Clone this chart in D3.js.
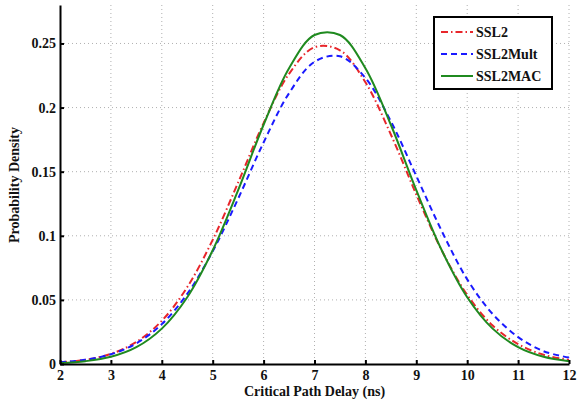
<!DOCTYPE html>
<html>
<head>
<meta charset="UTF-8">
<title>Critical Path Delay PDF</title>
<style>
  body { margin: 0; background: #fff; }
  text { font-family: "Liberation Serif", "Times New Roman", serif; font-weight: bold; }
</style>
<script src="https://d3js.org/d3.v7.min.js"></script>
</head>
<body>
<div id="chart"></div>
<script>
// delay in ns
const delays = [2, 2.5, 3, 3.5, 4, 4.5, 5, 5.5, 6, 6.5, 7, 7.5, 8, 8.5, 9, 9.5, 10, 10.5, 11, 11.5, 12];
const ssl2 = [0.0013, 0.0033, 0.0079, 0.0172, 0.0337, 0.0600, 0.0968, 0.1416, 0.1879, 0.2263, 0.2471, 0.2447, 0.2197, 0.1790, 0.1322, 0.0886, 0.0539, 0.0300, 0.0155, 0.0072, 0.0032];
const ssl2Mult = [0.0013, 0.0033, 0.0076, 0.0161, 0.0311, 0.0547, 0.0879, 0.1290, 0.1728, 0.2112, 0.2357, 0.2400, 0.2231, 0.1893, 0.1466, 0.1037, 0.0660, 0.0390, 0.0210, 0.0100, 0.0050];
const ssl2Mac = [0.0007, 0.0022, 0.0056, 0.0131, 0.0276, 0.0521, 0.0887, 0.1356, 0.1866, 0.2307, 0.2566, 0.2566, 0.2307, 0.1866, 0.1356, 0.0887, 0.0521, 0.0276, 0.0131, 0.0056, 0.0022];
const seriesNames = ["SSL2", "SSL2Mult", "SSL2MAC"];
const xTicks = [2, 3, 4, 5, 6, 7, 8, 9, 10, 11, 12];
const yTicks = [0, 0.05, 0.1, 0.15, 0.2, 0.25];

const W = 582, H = 403;
const margin = {top: 5, right: 13, bottom: 39, left: 60};
const width = W - margin.left - margin.right;
const height = H - margin.top - margin.bottom;

const svgRoot = d3.select("#chart").append("svg")
  .attr("width", W).attr("height", H);
const svg = svgRoot.append("g")
  .attr("transform", `translate(${margin.left},${margin.top})`);

const x = d3.scaleLinear().domain([2, 12]).range([0, width]);
const y = d3.scaleLinear().domain([0, 0.28]).range([height, 0]);

// dotted grid
svg.append("g").selectAll("line").data(xTicks.slice(1)).enter().append("line")
  .attr("x1", d => x(d)).attr("x2", d => x(d))
  .attr("y1", 0).attr("y2", height)
  .attr("stroke", "#b0b0b0").attr("stroke-width", 1).attr("stroke-dasharray", "1,3");
svg.append("g").selectAll("line").data(yTicks.slice(1)).enter().append("line")
  .attr("x1", 0).attr("x2", width)
  .attr("y1", d => y(d)).attr("y2", d => y(d))
  .attr("stroke", "#b0b0b0").attr("stroke-width", 1).attr("stroke-dasharray", "1,3");

// curves
const series = [
  {name: seriesNames[0], values: ssl2, color: "#e8262b", dash: "7,3,1.5,3"},
  {name: seriesNames[1], values: ssl2Mult, color: "#1a1aff", dash: "6,4"},
  {name: seriesNames[2], values: ssl2Mac, color: "#1f8a1f", dash: null}
];
const line = d3.line()
  .x((d, i) => x(delays[i]))
  .y(d => y(d))
  .curve(d3.curveCatmullRom);

series.forEach(s => {
  svg.append("path")
    .datum(s.values)
    .attr("fill", "none")
    .attr("stroke", s.color)
    .attr("stroke-width", 2)
    .attr("stroke-dasharray", s.dash)
    .attr("d", line);
});

// axes, ticks inward like matlab
const xAxis = svg.append("g")
  .attr("transform", `translate(0,${height})`)
  .call(d3.axisBottom(x).tickValues(xTicks).tickSizeInner(-4).tickSizeOuter(0).tickPadding(6));
const yAxis = svg.append("g")
  .call(d3.axisLeft(y).tickValues(yTicks).tickFormat(d3.format("")).tickSizeInner(-4).tickSizeOuter(0).tickPadding(4));

[xAxis, yAxis].forEach(a => {
  a.select(".domain").attr("stroke", "#000").attr("stroke-width", 2);
  a.selectAll(".tick line").attr("stroke", "#000").attr("stroke-width", 2);
  a.selectAll(".tick text")
    .attr("fill", "#111")
    .style("font-size", "14px")
    .style("font-family", "'Liberation Serif', serif")
    .style("font-weight", "bold");
});

svg.append("text")
  .attr("x", width / 2).attr("y", height + 32)
  .attr("text-anchor", "middle")
  .style("font-size", "14px")
  .attr("fill", "#111")
  .text("Critical Path Delay (ns)");

svg.append("text")
  .attr("transform", "rotate(-90)")
  .attr("x", -180).attr("y", -41)
  .attr("text-anchor", "middle")
  .style("font-size", "14px")
  .attr("fill", "#111")
  .text("Probability Density");

// legend
const legend = svgRoot.append("g").attr("transform", "translate(434,17)");
legend.append("rect")
  .attr("width", 118).attr("height", 72)
  .attr("fill", "#fff").attr("stroke", "#000").attr("stroke-width", 2);
series.forEach((s, i) => {
  const ly = 15 + i * 22;
  legend.append("line")
    .attr("x1", 7).attr("x2", 39).attr("y1", ly).attr("y2", ly)
    .attr("stroke", s.color).attr("stroke-width", 2)
    .attr("stroke-dasharray", s.dash);
  legend.append("text")
    .attr("x", 42).attr("y", ly + 5)
    .style("font-size", "14px")
    .attr("fill", "#111")
    .text(s.name);
});
</script>
</body>
</html>
